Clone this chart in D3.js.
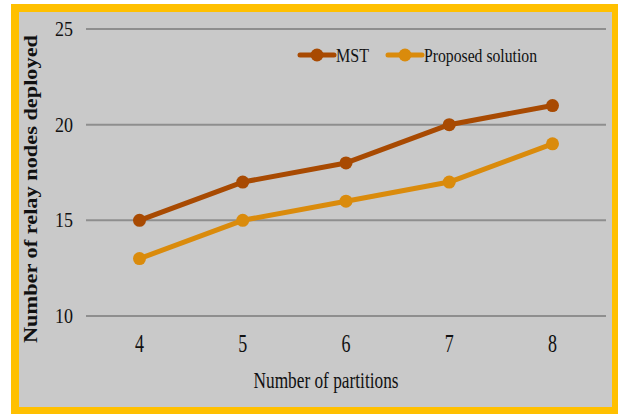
<!DOCTYPE html>
<html>
<head>
<meta charset="utf-8">
<script src="https://cdn.jsdelivr.net/npm/d3@7"></script>
<style>
  body { margin: 0; background: #fff; }
  svg text { font-family: "Liberation Serif", "Times New Roman", serif; fill: #111; }
</style>
</head>
<body>
<script>
// categories and series
const partitions = ["4", "5", "6", "7", "8"];
const mst = [15, 17, 18, 20, 21];
const proposed = [13, 15, 16, 17, 19];
const yTicks = [10, 15, 20, 25];
const seriesNames = ["MST", "Proposed solution"];
const colors = ["#A84A02", "#DA8B0C"];

const W = 618, H = 414;
const plot = {left: 88, right: 604, top: 29, bottom: 316};

const svg = d3.select("body").append("svg")
  .attr("width", W).attr("height", H);

// yellow frame + grey panel
svg.append("rect").attr("x", 11).attr("y", 4).attr("width", 610).attr("height", 414)
  .attr("fill", "#FFC000");
svg.append("rect").attr("x", 19).attr("y", 12).attr("width", 593).attr("height", 395)
  .attr("fill", "#C9C9C9");

const x = d3.scalePoint()
  .domain(partitions)
  .range([plot.left + 51.5, plot.right - 51.5]);

const y = d3.scaleLinear()
  .domain([10, 25])
  .range([plot.bottom, plot.top]);

// text in the picture is stretched vertically, so draw it through a scaled group
function label(px, py, str, size, sy, anchor) {
  const g = svg.append("g")
    .attr("transform", "translate(" + px + "," + py + ") scale(1," + sy + ")");
  return g.append("text")
    .attr("text-anchor", anchor || "start")
    .style("font-size", size + "px")
    .text(str);
}

// gridlines
svg.append("g")
  .selectAll("line")
  .data(yTicks)
  .enter().append("line")
  .attr("x1", plot.left - 2).attr("x2", plot.right + 2)
  .attr("y1", d => y(d)).attr("y2", d => y(d))
  .attr("stroke", "#8E8E8E").attr("stroke-width", 2);

// y tick labels
yTicks.forEach(t => label(73, y(t) + 7, t, 18, 1.2, "end"));

// x tick labels
partitions.forEach(p => label(x(p), 352, p, 18, 1.35, "middle"));

// axis titles
label(326, 388, "Number of partitions", 18, 1.3, "middle")
  .attr("textLength", 145).attr("lengthAdjust", "spacingAndGlyphs");

svg.append("text")
  .attr("transform", "translate(37,189) rotate(-90)")
  .attr("text-anchor", "middle")
  .style("font-size", "19px")
  .style("font-weight", "bold")
  .attr("textLength", 308).attr("lengthAdjust", "spacingAndGlyphs")
  .text("Number of relay nodes deployed");

// lines and markers
const line = d3.line()
  .x((d, i) => x(partitions[i]))
  .y(d => y(d));

[mst, proposed].forEach((vals, k) => {
  svg.append("path")
    .datum(vals)
    .attr("d", line)
    .attr("fill", "none")
    .attr("stroke", colors[k])
    .attr("stroke-width", 5)
    .attr("stroke-linejoin", "round");
  svg.append("g")
    .selectAll("circle")
    .data(vals)
    .enter().append("circle")
    .attr("cx", (d, i) => x(partitions[i]))
    .attr("cy", d => y(d))
    .attr("r", 6.5)
    .attr("fill", colors[k]);
});

// legend
const legendX = [300, 388];
const legendTextX = [336, 424];
seriesNames.forEach((name, k) => {
  svg.append("line")
    .attr("x1", legendX[k]).attr("x2", legendX[k] + 34)
    .attr("y1", 55).attr("y2", 55)
    .attr("stroke", colors[k]).attr("stroke-width", 5)
    .attr("stroke-linecap", "round");
  svg.append("circle")
    .attr("cx", legendX[k] + 17).attr("cy", 55).attr("r", 6.5)
    .attr("fill", colors[k]);
  label(legendTextX[k], 62, name, 17, 1.1, "start")
    .attr("textLength", k === 0 ? 33 : 113).attr("lengthAdjust", "spacingAndGlyphs");
});
</script>
</body>
</html>
